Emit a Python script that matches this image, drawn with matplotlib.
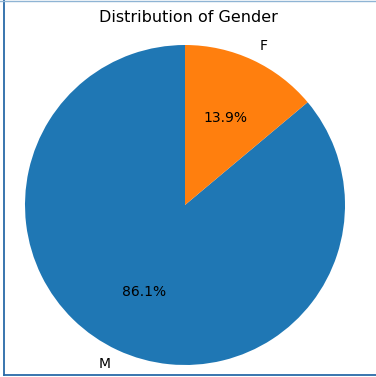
import matplotlib
matplotlib.use("Agg")
import matplotlib.pyplot as plt
from matplotlib.lines import Line2D

labels = ["M", "F"]
sizes = [86.1, 13.9]

fig = plt.figure(figsize=(3.76, 3.77), dpi=100)
# pie uses limits of +-1.25, so the axes box is 2.5 radii wide
ax = fig.add_axes([-15 / 376, -28 / 377, 400 / 376, 400 / 377])
ax.pie(sizes, labels=labels, autopct="%1.1f%%", startangle=90)
ax.set_aspect("equal")
fig.text(0.5, 1 - 17 / 377, "Distribution of Gender", ha="center", va="center", fontsize=11.5)

# frame edges seen in the screenshot: left, bottom and a faint top line
W, H = 376, 377
fig.lines.append(Line2D([3.5 / W, 3.5 / W], [2.5 / H, 1], transform=fig.transFigure,
                        color="#2a6aa8", linewidth=1.3))
fig.lines.append(Line2D([3.5 / W, 1], [2.5 / H, 2.5 / H], transform=fig.transFigure,
                        color="#2a6aa8", linewidth=1.3))
fig.lines.append(Line2D([0, 1], [1 - 0.5 / H, 1 - 0.5 / H], transform=fig.transFigure,
                        color="#8fb4d4", linewidth=1.0))

fig.savefig("out.png", dpi=100)
